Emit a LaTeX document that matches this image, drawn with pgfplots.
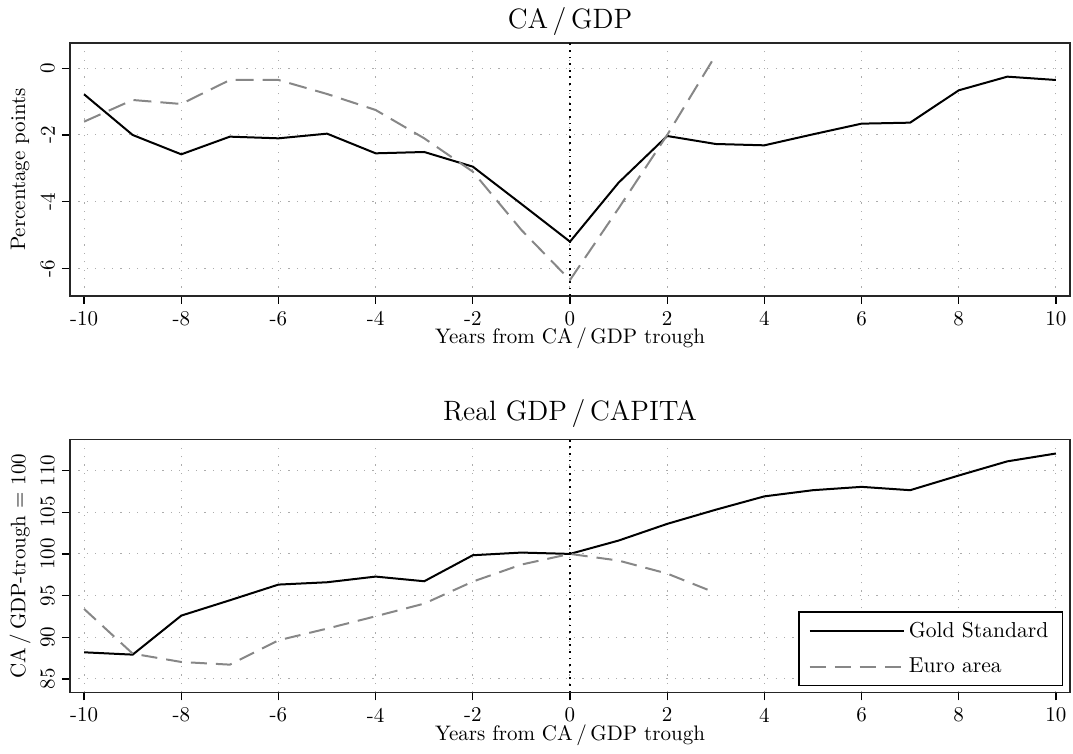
\documentclass[border=0pt]{standalone}
\usepackage{pgfplots}
\pgfplotsset{compat=1.18}
\usepackage{pgfplotstable}

\pgfplotstableread{
x y
-10 -0.78
-9 -2.00
-8 -2.58
-7 -2.05
-6 -2.10
-5 -1.96
-4 -2.55
-3 -2.51
-2 -2.95
-1 -4.07
0 -5.20
1 -3.43
2 -2.03
3 -2.27
4 -2.31
5 -1.98
6 -1.66
7 -1.63
8 -0.66
9 -0.25
10 -0.35
}\goldca

\pgfplotstableread{
x y
-10 -1.60
-9 -0.95
-8 -1.07
-7 -0.35
-6 -0.35
-5 -0.77
-4 -1.25
-3 -2.10
-2 -3.10
-1 -4.85
0 -6.35
1 -4.20
2 -2.00
3 0.40
}\euroca

\pgfplotstableread{
x y
-10 88.20
-9 87.92
-8 92.60
-7 94.44
-6 96.32
-5 96.60
-4 97.28
-3 96.72
-2 99.84
-1 100.16
0 100.00
1 101.60
2 103.60
3 105.30
4 106.90
5 107.64
6 108.04
7 107.64
8 109.40
9 111.10
10 112.04
}\goldgdp

\pgfplotstableread{
x y
-10 93.40
-9 88.04
-8 87.04
-7 86.72
-6 89.64
-5 91.04
-4 92.52
-3 94.04
-2 96.68
-1 98.72
0 100.00
1 99.20
2 97.64
3 95.32
}\eurogdp

\pgfplotsset{
  panel/.style={
    scale only axis, width=500pt, height=126.5pt,
    xmin=-10.29, xmax=10.29, xtick={-10,-8,...,10},
    tick pos=left, tick align=outside, major tick length=4pt,
    tick style={black, line width=0.6pt},
    axis line style={line width=0.7pt, black!85},
    grid=major,
    major grid style={gray!65, line width=0.5pt, dash pattern=on 0.6pt off 3.6pt},
    /pgf/number format/assume math mode=true,
    ticklabel style={font=\fontsize{10.5}{12}\selectfont},
    xticklabel style={inner sep=0pt, yshift=-3.5pt},
    label style={font=\fontsize{10.5}{12}\selectfont},
    yticklabel style={rotate=90, anchor=south},
    xlabel={Years from CA\,/\,GDP trough},
    xlabel style={at={(axis description cs:0.5,0)}, anchor=base, inner sep=0pt, yshift=-24pt},
    ylabel style={at={(axis description cs:0,0.5)}, anchor=center, inner sep=0pt, yshift=25pt},
    title style={font=\fontsize{14}{16}\selectfont, at={(axis description cs:0.5,1)}, anchor=base, inner sep=0pt},
  },
  gold/.style={black, line width=1pt},
  euro/.style={color={rgb,255:red,135;green,135;blue,135}, line width=1pt, dash pattern=on 9pt off 4.5pt},
  zeroline/.style={forget plot, black, line width=0.9pt, dash pattern=on 0.9pt off 2.4pt},
}

\begin{document}
\begin{tikzpicture}
\begin{axis}[panel, name=top, at={(0,0)}, anchor=south west,
  ymin=-6.83, ymax=0.76, ytick={-6,-4,-2,0},
  title style={yshift=1pt},
  title={CA\,/\,GDP}, ylabel={Percentage points}]
\addplot[zeroline] coordinates {(0,-6.83) (0,0.76)};
\addplot[gold] table[x=x,y=y] {\goldca};
\addplot[euro] table[x=x,y=y] {\euroca};
\end{axis}
\begin{axis}[panel, name=bottom, at={(0,-198.25pt)}, anchor=south west,
  ymin=83.38, ymax=113.72, ytick={85,90,...,110},
  title style={yshift=3.5pt},
  title={Real GDP\,/\,CAPITA}, ylabel={CA\,/\,GDP-trough = 100},
  legend style={at={(0.993,0.024)}, anchor=south east, draw=black, line width=0.6pt,
    font=\fontsize{10.8}{13}\selectfont, inner xsep=5pt, inner ysep=3pt,
    row sep=5pt, cells={anchor=west}},
  legend image code/.code={\path (0pt,0pt) -- (47pt,0pt);\draw[#1] (0pt,0pt) -- (35pt,0pt);},
  legend cell align=left]
\addplot[zeroline] coordinates {(0,83.38) (0,113.72)};
\addplot[gold] table[x=x,y=y] {\goldgdp};
\addlegendentry{Gold Standard}
\addplot[euro, dash pattern=on 8pt off 4.5pt] table[x=x,y=y] {\eurogdp};
\addlegendentry{Euro area}
\end{axis}
\pgfresetboundingbox
\path (-35pt,148pt) rectangle (501.5pt,-229pt);
\end{tikzpicture}
\end{document}
